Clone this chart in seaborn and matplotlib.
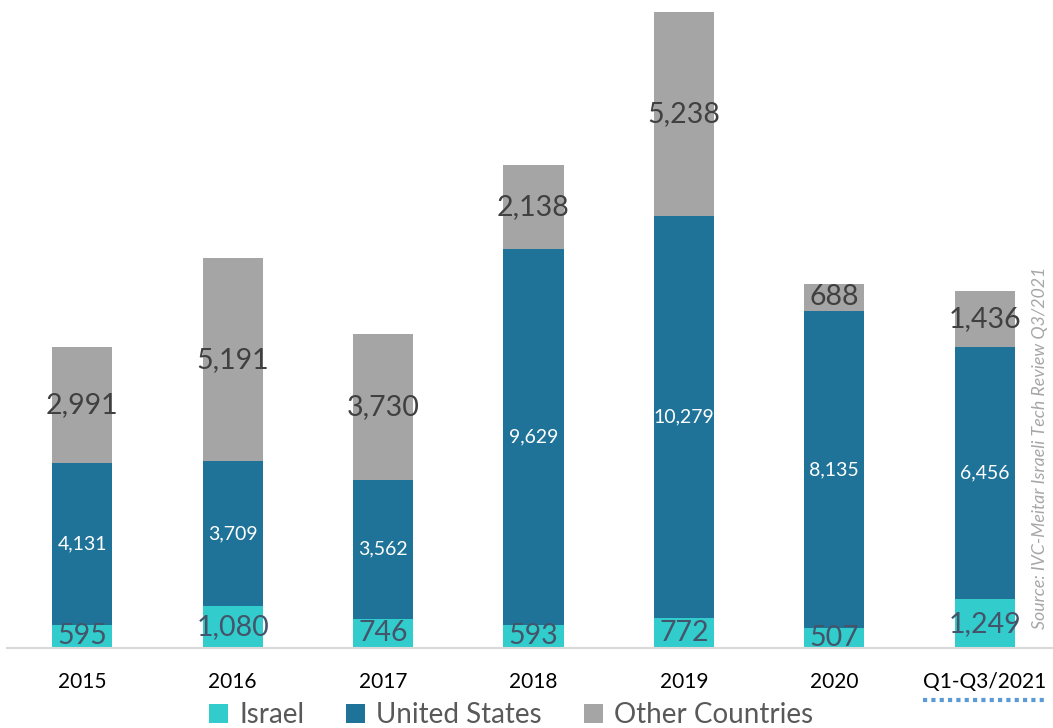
import numpy as np
import pandas as pd
import matplotlib
matplotlib.use("Agg")
import matplotlib.pyplot as plt
import seaborn as sns
from matplotlib.patches import Patch
from matplotlib.lines import Line2D

categories = ["2015", "2016", "2017", "2018", "2019", "2020", "Q1-Q3/2021"]
israel = [595, 1080, 746, 593, 772, 507, 1249]
united_states = [4131, 3709, 3562, 9629, 10279, 8135, 6456]
other_countries = [2991, 5191, 3730, 2138, 5238, 688, 1436]

series_names = ["Israel", "United States", "Other Countries"]
colors = {"Israel": "#33CCCC", "United States": "#1F7399", "Other Countries": "#A5A5A5"}

sns.set_theme(style="white")
plt.rcParams["font.family"] = ["Lato", "DejaVu Sans"]

df = pd.DataFrame({"cat": categories, "Israel": israel,
                   "United States": united_states, "Other Countries": other_countries})
df["cum_is"] = df["Israel"]
df["cum_us"] = df["Israel"] + df["United States"]
df["cum_all"] = df["cum_us"] + df["Other Countries"]

fig = plt.figure(figsize=(10.53, 7.28), dpi=100)
ax = fig.add_axes([7 / 1053, 80 / 728, 1.0, 648 / 728])

sns.barplot(data=df, x="cat", y="cum_all", color=colors["Other Countries"], width=0.4,
            saturation=1, ax=ax, linewidth=0)
sns.barplot(data=df, x="cat", y="cum_us", color=colors["United States"], width=0.4,
            saturation=1, ax=ax, linewidth=0)
sns.barplot(data=df, x="cat", y="cum_is", color=colors["Israel"], width=0.4,
            saturation=1, ax=ax, linewidth=0)

ax.set_xlim(-0.5, 6.5)
ax.set_ylim(0, 16595)
ax.set_xlabel("")
ax.set_ylabel("")
ax.set_yticks([])
for s in ["top", "left", "right"]:
    ax.spines[s].set_visible(False)
ax.spines["bottom"].set_color("#D9D9D9")
ax.spines["bottom"].set_linewidth(1.5)
ax.tick_params(axis="x", length=0, pad=17, labelsize=15, labelcolor="black")

for i in range(len(categories)):
    ax.text(i, israel[i] / 2, f"{israel[i]:,}", ha="center", va="center",
            fontsize=20.5, color="#44546A")
    ax.text(i, israel[i] + united_states[i] / 2, f"{united_states[i]:,}", ha="center",
            va="center", fontsize=14, color="white")
    ax.text(i, df["cum_us"][i] + other_countries[i] / 2, f"{other_countries[i]:,}",
            ha="center", va="center", fontsize=20.5, color="#404040")

handles = [Patch(facecolor=colors[n], edgecolor="none") for n in series_names]
fig.legend(handles, series_names, loc="center", bbox_to_anchor=(511 / 1053, 1 - 715 / 728),
           ncol=3, frameon=False, fontsize=20, labelcolor="#595959",
           handlelength=0.7, handleheight=0.7, handletextpad=0.4, columnspacing=1.5,
           borderpad=0, borderaxespad=0)

fig.text(1040 / 1053, 1 - 448 / 728, "Source: IVC-Meitar Israeli Tech Review Q3/2021",
         rotation=90, ha="center", va="center", fontsize=12.8, style="italic", color="#A6A6A6")

# dotted underline beneath the last tick label
fig.canvas.draw()
renderer = fig.canvas.get_renderer()
lbl = ax.get_xticklabels()[-1]
bb = lbl.get_window_extent(renderer).transformed(fig.transFigure.inverted())
fig.add_artist(Line2D([bb.x0, bb.x1], [bb.y0 - 0.012, bb.y0 - 0.012], transform=fig.transFigure,
                      color="#5B9BD5", linewidth=3, linestyle=(0, (1, 1))))

fig.savefig("out.png", dpi=100)
